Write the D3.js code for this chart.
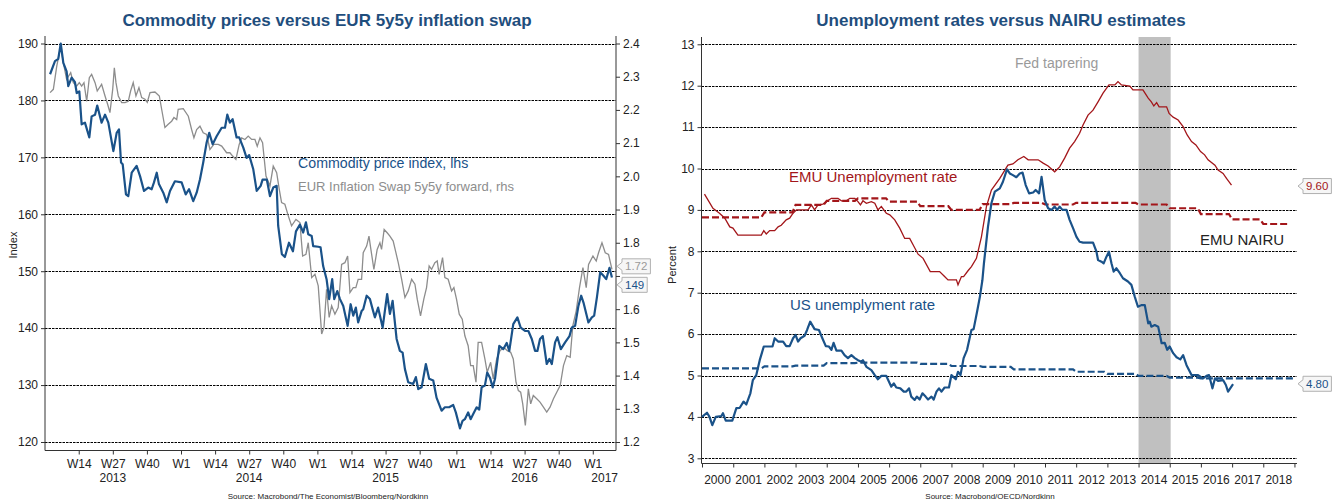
<!DOCTYPE html>
<html><head><meta charset="utf-8">
<script src="https://cdn.jsdelivr.net/npm/d3@7"></script>
<style>
body{margin:0;background:#fff}
svg{display:block}
text{font-family:Arial,"Liberation Sans",sans-serif}
</style>
</head><body>
<svg id="c" width="1338" height="500"></svg>
<script>
// ---------------- DATA (decimal year, value) ----------------
const commodityIndex = [[2013.037,184.6],[2013.073,186.9],[2013.097,187.3],[2013.115,190.0],[2013.134,186.6],[2013.158,185.1],[2013.170,182.5],[2013.195,184.0],[2013.219,183.2],[2013.232,181.3],[2013.251,181.6],[2013.268,175.8],[2013.292,176.1],[2013.324,173.5],[2013.341,177.2],[2013.366,177.5],[2013.382,179.1],[2013.402,177.2],[2013.414,176.1],[2013.439,177.5],[2013.463,176.1],[2013.500,171.1],[2013.524,174.3],[2013.541,174.9],[2013.556,169.1],[2013.568,168.8],[2013.592,163.5],[2013.609,163.2],[2013.634,167.3],[2013.670,168.5],[2013.695,166.7],[2013.724,164.1],[2013.755,164.7],[2013.780,164.4],[2013.797,165.6],[2013.817,167.3],[2013.833,165.3],[2013.865,163.8],[2013.890,162.1],[2013.914,164.1],[2013.950,165.8],[2013.999,165.6],
[2014.029,163.5],[2014.053,164.4],[2014.084,162.3],[2014.109,163.8],[2014.133,166.1],[2014.157,169.1],[2014.182,172.6],[2014.201,174.3],[2014.226,172.3],[2014.255,173.7],[2014.292,175.2],[2014.316,175.2],[2014.333,177.5],[2014.352,176.1],[2014.372,176.7],[2014.401,173.5],[2014.420,173.5],[2014.450,171.7],[2014.474,169.9],[2014.493,170.4],[2014.523,167.9],[2014.548,164.1],[2014.577,165.0],[2014.591,166.1],[2014.622,166.1],[2014.645,163.2],[2014.669,164.7],[2014.694,165.0],[2014.705,158.0],[2014.732,153.0],[2014.754,152.5],[2014.784,155.0],[2014.813,153.5],[2014.835,157.0],[2014.864,158.2],[2014.888,156.8],[2014.908,158.6],[2014.925,156.5],[2014.950,156.2],[2014.961,154.4],[2014.998,154.3],
[2015.015,154.2],[2015.034,150.9],[2015.059,148.6],[2015.078,145.1],[2015.100,148.6],[2015.115,145.1],[2015.137,146.5],[2015.157,145.1],[2015.181,143.9],[2015.213,140.4],[2015.235,144.2],[2015.254,142.2],[2015.273,143.6],[2015.290,141.0],[2015.315,143.0],[2015.327,143.3],[2015.352,145.7],[2015.376,145.1],[2015.396,143.3],[2015.412,141.9],[2015.436,143.6],[2015.469,140.1],[2015.485,143.0],[2015.502,146.0],[2015.522,142.5],[2015.542,144.8],[2015.571,138.1],[2015.595,136.0],[2015.615,135.7],[2015.632,132.8],[2015.656,130.5],[2015.692,130.2],[2015.712,131.4],[2015.729,129.3],[2015.754,129.6],[2015.785,133.7],[2015.809,131.1],[2015.839,130.8],[2015.863,127.8],[2015.900,125.5],[2015.924,126.1],[2015.955,126.1],[2015.985,126.5],
[2016.004,125.2],[2016.034,122.4],[2016.053,123.7],[2016.070,124.0],[2016.094,125.2],[2016.112,124.0],[2016.131,124.9],[2016.156,126.1],[2016.175,125.7],[2016.192,129.6],[2016.216,129.9],[2016.233,132.2],[2016.253,131.3],[2016.273,129.6],[2016.290,131.1],[2016.321,136.9],[2016.350,136.3],[2016.375,137.4],[2016.394,136.0],[2016.423,140.7],[2016.453,141.9],[2016.477,140.1],[2016.509,139.5],[2016.533,139.5],[2016.558,138.1],[2016.582,136.0],[2016.599,136.0],[2016.618,138.1],[2016.638,138.6],[2016.667,133.7],[2016.687,134.6],[2016.704,133.7],[2016.728,137.5],[2016.745,138.4],[2016.770,136.3],[2016.801,137.5],[2016.833,138.6],[2016.850,140.1],[2016.874,140.4],[2016.898,143.9],[2016.918,145.7],[2016.935,144.5],[2016.971,141.0],[2016.996,141.9],
[2017.013,142.2],[2017.033,145.4],[2017.057,149.8],[2017.081,149.2],[2017.101,148.6],[2017.125,150.6],[2017.143,148.9]];

const inflationSwap5y5y = [[2013.037,2.252],[2013.061,2.262],[2013.086,2.332],[2013.115,2.392],[2013.134,2.342],[2013.158,2.292],[2013.188,2.312],[2013.207,2.282],[2013.232,2.272],[2013.251,2.282],[2013.268,2.272],[2013.285,2.282],[2013.305,2.226],[2013.324,2.297],[2013.341,2.307],[2013.366,2.282],[2013.382,2.257],[2013.414,2.277],[2013.439,2.242],[2013.458,2.217],[2013.475,2.192],[2013.495,2.262],[2013.507,2.327],[2013.519,2.282],[2013.536,2.242],[2013.561,2.222],[2013.585,2.222],[2013.609,2.226],[2013.626,2.257],[2013.645,2.282],[2013.665,2.242],[2013.687,2.267],[2013.707,2.237],[2013.731,2.232],[2013.748,2.223],[2013.768,2.252],[2013.804,2.254],[2013.836,2.242],[2013.853,2.202],[2013.877,2.147],[2013.901,2.157],[2013.926,2.166],[2013.943,2.177],[2013.963,2.171],[2013.974,2.202],
[2014.011,2.204],[2014.048,2.181],[2014.072,2.141],[2014.089,2.116],[2014.109,2.141],[2014.133,2.151],[2014.157,2.131],[2014.182,2.126],[2014.206,2.081],[2014.235,2.096],[2014.267,2.096],[2014.292,2.091],[2014.328,2.071],[2014.352,2.071],[2014.372,2.061],[2014.396,2.051],[2014.420,2.096],[2014.438,2.116],[2014.462,2.111],[2014.486,2.121],[2014.511,2.111],[2014.535,2.111],[2014.552,2.091],[2014.572,2.116],[2014.591,2.101],[2014.616,2.001],[2014.645,1.971],[2014.669,2.031],[2014.694,2.011],[2014.713,1.961],[2014.730,1.921],[2014.754,1.916],[2014.779,1.881],[2014.803,1.851],[2014.835,1.870],[2014.864,1.861],[2014.884,1.760],[2014.908,1.765],[2014.925,1.800],[2014.950,1.695],[2014.974,1.705],[2014.998,1.670],
[2015.023,1.525],[2015.040,1.545],[2015.059,1.660],[2015.078,1.575],[2015.096,1.610],[2015.120,1.585],[2015.144,1.605],[2015.169,1.735],[2015.193,1.740],[2015.213,1.760],[2015.230,1.650],[2015.254,1.665],[2015.273,1.665],[2015.290,1.690],[2015.315,1.690],[2015.327,1.770],[2015.352,1.790],[2015.369,1.820],[2015.383,1.780],[2015.405,1.720],[2015.429,1.780],[2015.449,1.800],[2015.461,1.780],[2015.480,1.840],[2015.502,1.830],[2015.522,1.820],[2015.546,1.805],[2015.566,1.770],[2015.583,1.740],[2015.608,1.690],[2015.632,1.635],[2015.656,1.655],[2015.681,1.690],[2015.705,1.675],[2015.722,1.630],[2015.746,1.580],[2015.770,1.630],[2015.790,1.665],[2015.809,1.730],[2015.827,1.720],[2015.851,1.740],[2015.868,1.745],[2015.882,1.705],[2015.907,1.755],[2015.924,1.695],[2015.948,1.690],[2015.973,1.655],[2015.990,1.665],
[2016.009,1.630],[2016.029,1.585],[2016.051,1.570],[2016.070,1.520],[2016.094,1.490],[2016.112,1.430],[2016.131,1.430],[2016.151,1.380],[2016.167,1.500],[2016.192,1.500],[2016.216,1.450],[2016.233,1.410],[2016.258,1.440],[2016.277,1.390],[2016.302,1.450],[2016.326,1.475],[2016.355,1.485],[2016.379,1.475],[2016.404,1.470],[2016.423,1.450],[2016.443,1.380],[2016.460,1.355],[2016.477,1.350],[2016.492,1.315],[2016.511,1.250],[2016.533,1.360],[2016.550,1.315],[2016.569,1.340],[2016.594,1.330],[2016.618,1.320],[2016.643,1.305],[2016.667,1.290],[2016.691,1.305],[2016.716,1.330],[2016.740,1.350],[2016.765,1.370],[2016.789,1.430],[2016.813,1.460],[2016.838,1.455],[2016.857,1.550],[2016.882,1.595],[2016.906,1.665],[2016.931,1.725],[2016.955,1.665],[2016.972,1.735],
[2017.004,1.760],[2017.028,1.745],[2017.045,1.770],[2017.070,1.800],[2017.094,1.770],[2017.118,1.765],[2017.143,1.720]];

const emuUnemployment = [[2000.08,9.38],[2000.35,9.04],[2000.56,8.92],[2000.73,8.80],[2000.89,8.59],[2000.99,8.56],[2001.15,8.39],[2001.90,8.39],[2001.98,8.50],[2002.06,8.42],[2002.17,8.50],[2002.33,8.50],[2002.44,8.59],[2002.54,8.63],[2002.70,8.76],[2002.81,8.80],[2002.92,8.92],[2003.03,9.00],[2003.40,9.00],[2003.51,9.12],[2003.61,9.00],[2003.72,9.12],[2003.88,9.14],[2003.99,9.20],[2004.15,9.28],[2004.36,9.28],[2004.47,9.22],[2004.63,9.22],[2004.74,9.28],[2004.90,9.28],[2005.00,9.20],[2005.08,9.12],[2005.16,9.22],[2005.27,9.16],[2005.43,9.20],[2005.54,9.16],[2005.64,9.00],[2005.75,9.08],[2005.91,8.92],[2006.02,8.88],[2006.18,8.76],[2006.34,8.56],[2006.50,8.31],[2006.66,8.31],[2006.93,7.93],[2007.09,7.83],[2007.32,7.51],[2007.62,7.51],[2007.78,7.39],[2007.89,7.31],[2008.16,7.31],[2008.21,7.19],[2008.32,7.39],[2008.39,7.39],[2008.53,7.53],[2008.64,7.63],[2008.80,7.83],[2008.96,8.35],[2009.12,9.08],[2009.28,9.48],[2009.55,9.76],[2009.81,10.08],[2009.97,10.11],[2010.13,10.21],[2010.32,10.29],[2010.46,10.21],[2010.78,10.21],[2010.94,10.13],[2011.10,10.06],[2011.31,9.92],[2011.47,10.04],[2011.63,10.25],[2011.79,10.49],[2011.95,10.65],[2012.11,10.85],[2012.22,11.05],[2012.38,11.29],[2012.54,11.41],[2012.70,11.61],[2012.86,11.82],[2013.05,12.02],[2013.24,12.02],[2013.34,12.10],[2013.45,12.02],[2013.72,11.99],[2013.82,11.90],[2014.14,11.90],[2014.31,11.70],[2014.41,11.61],[2014.49,11.51],[2014.58,11.59],[2014.66,11.49],[2014.90,11.49],[2014.98,11.33],[2015.11,11.24],[2015.27,11.17],[2015.43,11.01],[2015.56,10.81],[2015.70,10.65],[2015.84,10.57],[2015.99,10.41],[2016.12,10.33],[2016.23,10.21],[2016.45,10.08],[2016.55,9.96],[2016.71,9.88],[2016.82,9.76],[2016.98,9.60]];

const usUnemployment = [[2000.00,4.00],[2000.16,4.10],[2000.24,4.00],[2000.33,3.80],[2000.44,4.00],[2000.62,4.02],[2000.67,4.09],[2000.76,3.91],[2000.97,3.91],[2001.10,4.21],[2001.21,4.22],[2001.33,4.37],[2001.42,4.30],[2001.55,4.57],[2001.63,4.89],[2001.74,5.01],[2001.85,5.37],[2001.98,5.70],[2002.17,5.70],[2002.26,5.70],[2002.33,5.90],[2002.44,5.82],[2002.60,5.82],[2002.70,5.71],[2002.81,5.71],[2002.92,5.90],[2003.00,5.98],[2003.08,5.82],[2003.16,5.90],[2003.29,5.96],[2003.37,6.10],[2003.47,6.30],[2003.61,6.12],[2003.75,6.10],[2003.86,5.90],[2003.97,5.71],[2004.07,5.70],[2004.15,5.62],[2004.22,5.79],[2004.31,5.60],[2004.47,5.60],[2004.57,5.49],[2004.68,5.42],[2004.79,5.49],[2004.90,5.42],[2005.00,5.37],[2005.11,5.33],[2005.16,5.37],[2005.27,5.21],[2005.43,5.13],[2005.54,5.01],[2005.64,4.91],[2005.75,4.99],[2005.91,4.99],[2006.07,4.73],[2006.15,4.81],[2006.23,4.71],[2006.36,4.69],[2006.47,4.61],[2006.55,4.61],[2006.64,4.69],[2006.71,4.49],[2006.82,4.41],[2006.89,4.49],[2006.98,4.42],[2007.07,4.57],[2007.17,4.49],[2007.25,4.42],[2007.36,4.49],[2007.43,4.42],[2007.52,4.61],[2007.60,4.69],[2007.68,4.61],[2007.78,4.71],[2007.92,4.71],[2008.00,5.01],[2008.14,4.91],[2008.21,5.09],[2008.29,5.01],[2008.39,5.42],[2008.50,5.62],[2008.64,6.10],[2008.71,6.12],[2008.82,6.54],[2008.91,6.90],[2008.99,7.30],[2009.04,7.71],[2009.17,8.59],[2009.28,9.16],[2009.39,9.44],[2009.55,9.52],[2009.65,9.68],[2009.78,9.98],[2009.87,9.88],[2009.97,9.84],[2010.08,9.79],[2010.19,9.88],[2010.28,9.90],[2010.38,9.60],[2010.49,9.40],[2010.62,9.42],[2010.70,9.48],[2010.81,9.40],[2010.89,9.80],[2010.99,9.24],[2011.10,9.04],[2011.21,9.00],[2011.31,9.08],[2011.39,9.00],[2011.47,9.08],[2011.56,9.00],[2011.69,9.00],[2011.79,8.76],[2011.90,8.56],[2012.01,8.35],[2012.11,8.23],[2012.22,8.21],[2012.54,8.21],[2012.65,7.99],[2012.70,7.79],[2012.81,7.75],[2012.88,7.71],[2012.97,7.87],[2013.05,7.99],[2013.13,7.71],[2013.20,7.51],[2013.29,7.59],[2013.40,7.47],[2013.50,7.35],[2013.66,7.27],[2013.77,7.19],[2013.88,6.90],[2013.98,6.66],[2014.09,6.70],[2014.20,6.70],[2014.31,6.26],[2014.36,6.30],[2014.41,6.18],[2014.52,6.22],[2014.63,6.18],[2014.74,5.78],[2014.84,5.79],[2014.92,5.62],[2015.00,5.70],[2015.11,5.54],[2015.22,5.44],[2015.34,5.39],[2015.43,5.49],[2015.54,5.25],[2015.70,5.01],[2015.91,5.01],[2016.07,4.93],[2016.18,4.99],[2016.26,5.01],[2016.37,4.69],[2016.45,4.93],[2016.55,4.87],[2016.71,4.89],[2016.80,4.77],[2016.87,4.61],[2017.03,4.79]];

// annual NAIRU estimates
const nairuYears   = [2000,2001,2002,2003,2004,2005,2006,2007,2008,2009,2010,2011,2012,2013,2014,2015,2016,2017,2018];
const emuNairu     = [8.82,8.82,8.94,9.12,9.22,9.28,9.20,9.09,9.00,9.14,9.17,9.13,9.17,9.17,9.13,9.04,8.90,8.77,8.66];
const usNairu      = [5.17,5.17,5.22,5.24,5.30,5.31,5.31,5.28,5.23,5.21,5.15,5.15,5.09,5.04,4.99,4.95,4.93,4.93,4.93];
const nairuEnd     = {emu: 2018.86, us: 2018.97};

const fedTapering  = [2014.0, 2015.03];
const leftTicks    = [120,130,140,150,160,170,180,190];
const rightTicks   = [1.2,1.3,1.4,1.5,1.6,1.7,1.8,1.9,2.0,2.1,2.2,2.3,2.4];
const pctTicks     = [3,4,5,6,7,8,9,10,11,12,13];
const weekNumbers  = [1,14,27,40];

// ---------------- HELPERS ----------------
const BLUE = "#1a5289", GREY = "#8d8d8d", RED = "#a3161a", TITLE = "#1f4e7d";
const svg = d3.select("#c");
function toDate(y){ const yr=Math.floor(y); const a=Date.UTC(yr,0,1), b=Date.UTC(yr+1,0,1); return new Date(a+(y-yr)*(b-a)); }
function styleAxis(g){
  g.select(".domain").remove();
  g.selectAll(".tick line").attr("stroke","#333");
  g.selectAll(".tick text").attr("fill","#222").style("font-size","12px");
}
function callout(xTip, yc, label, color){
  const g = svg.append("g");
  const t = g.append("text").attr("x",0).attr("y",yc+4).attr("fill",color)
    .style("font-size","11.5px").attr("text-anchor","middle").text(label);
  const w = t.node().getComputedTextLength()+6, h=15, gap=5;
  const x0 = xTip+gap;
  t.attr("x", x0 + w/2);
  g.insert("path","text").attr("d",
    `M${xTip},${yc} L${x0},${yc-4} L${x0},${yc-h/2} L${x0+w},${yc-h/2} L${x0+w},${yc+h/2} L${x0},${yc+h/2} L${x0},${yc+4} Z`)
    .attr("fill","#f6f6f6").attr("stroke","#b0b0b0").attr("stroke-width",1);
  return [yc-h/2, yc+h/2];
}
function expandAnnual(vals, endYear){
  const out=[];
  nairuYears.forEach((y,i)=>{ out.push([y, vals[i]]); out.push([i===nairuYears.length-1?endYear:y+0.9, vals[i]]); });
  return out;
}
function grid(sel, ticks, scale, x0, x1){
  sel.append("g").selectAll("line").data(ticks).join("line")
    .attr("x1",x0).attr("x2",x1).attr("y1",d=>Math.round(scale(d))+0.5).attr("y2",d=>Math.round(scale(d))+0.5)
    .attr("stroke","#000").attr("stroke-width",1.1).attr("stroke-dasharray","2.5,1");
}

// ================= LEFT CHART =================
const L = {x0:45, x1:616, top:36, bot:450.5};
const xL = d3.scaleUtc().domain([new Date(Date.UTC(2013,0,1)), new Date(Date.UTC(2017,2,5))]).range([L.x0,L.x1]);
const yL = d3.scaleLinear().domain([120,190]).range([442,43.5]);
const yR = d3.scaleLinear().domain([1.2,2.4]).range([442,43.5]);

svg.append("text").attr("x",327).attr("y",26).attr("text-anchor","middle")
  .attr("fill",TITLE).style("font-size","17px").style("font-weight","bold")
  .text("Commodity prices versus EUR 5y5y inflation swap");

grid(svg, leftTicks, yL, L.x0, L.x1);

const axL = svg.append("g").attr("transform",`translate(${L.x0},0)`)
  .call(d3.axisLeft(yL).tickValues(leftTicks).tickSize(4).tickPadding(3));
styleAxis(axL);
const axR = svg.append("g").attr("transform",`translate(${L.x1},0)`)
  .call(d3.axisRight(yR).tickValues(rightTicks).tickFormat(d3.format(".1f")).tickSize(4).tickPadding(3));
styleAxis(axR);

// x axis with ISO week ticks
const fmtV = d3.utcFormat("%V"), fmtG = d3.utcFormat("%G");
const mondays = d3.utcMonday.range(xL.domain()[0], xL.domain()[1]).filter(d=>weekNumbers.includes(+fmtV(d)));
const axB = svg.append("g").attr("transform",`translate(0,${L.bot})`)
  .call(d3.axisBottom(xL).tickValues(mondays).tickFormat(d=>"W"+(+fmtV(d))).tickSize(4).tickPadding(5));
styleAxis(axB);
const years = mondays.filter(d=>+fmtV(d)===27);
svg.append("g").selectAll("text").data(years).join("text")
  .attr("x",d=>xL(d)).attr("y",482).attr("text-anchor","middle")
  .attr("fill","#222").style("font-size","12px").text(d=>fmtG(d));
const lastW1 = mondays[mondays.length-1];
svg.append("text").attr("x",L.x1+2).attr("y",482).attr("text-anchor","end")
  .attr("fill","#222").style("font-size","12px").text(fmtG(lastW1));

// axis lines
svg.append("line").attr("x1",L.x0).attr("x2",L.x0).attr("y1",L.top).attr("y2",L.bot).attr("stroke","#333");
svg.append("line").attr("x1",L.x1).attr("x2",L.x1).attr("y1",L.top).attr("y2",L.bot).attr("stroke","#333");
svg.append("line").attr("x1",L.x0).attr("x2",L.x1).attr("y1",L.bot).attr("y2",L.bot).attr("stroke","#333");

svg.append("path").datum(inflationSwap5y5y)
  .attr("d", d3.line().x(d=>xL(toDate(d[0]))).y(d=>yR(d[1])))
  .attr("fill","none").attr("stroke",GREY).attr("stroke-width",1.3);
svg.append("path").datum(commodityIndex)
  .attr("d", d3.line().x(d=>xL(toDate(d[0]))).y(d=>yL(d[1])))
  .attr("fill","none").attr("stroke",BLUE).attr("stroke-width",2.2).attr("stroke-linejoin","round");

svg.append("text").attr("transform","translate(17,245) rotate(-90)").attr("text-anchor","middle")
  .attr("fill","#222").style("font-size","11px").text("Index");
svg.append("text").attr("x",298).attr("y",168).attr("fill",BLUE).style("font-size","14.2px").text("Commodity price index, lhs");
svg.append("text").attr("x",298).attr("y",191).attr("fill",GREY).style("font-size","13px").text("EUR Inflation Swap 5y5y forward, rhs");

const lastSwap = inflationSwap5y5y[inflationSwap5y5y.length-1][1];
const lastCom = commodityIndex[commodityIndex.length-1][1];
const c1 = yR(lastSwap)-3;
const c2 = Math.max(yL(lastCom), c1+18.5);
const b1 = callout(L.x1+1, c1, d3.format(".2f")(lastSwap), "#9a9a9a");
const b2 = callout(L.x1+1, c2, d3.format(".0f")(lastCom), BLUE);
// value labels sit on top of the right axis: hide tick labels they cover (as in the original)
axR.selectAll(".tick").each(function(d){
  const y = yR(d);
  if ((y+7 > b1[0] && y-7 < b1[1]) || (y+7 > b2[0] && y-7 < b2[1])) d3.select(this).select("text").remove();
});

svg.append("text").attr("x",328).attr("y",499).attr("text-anchor","middle").attr("fill","#222")
  .style("font-size","8px").text("Source: Macrobond/The Economist/Bloomberg/Nordkinn");

// ================= RIGHT CHART =================
const R = {x0:701.5, x1:1297, top:37, bot:463.5};
const xU = d3.scaleUtc().domain([new Date(Date.UTC(2000,0,1)), new Date(Date.UTC(2019,0,31))]).range([702,1297]);
const yU = d3.scaleLinear().domain([3,13]).range([458.3,44.3]);

svg.append("text").attr("x",1001).attr("y",26).attr("text-anchor","middle")
  .attr("fill",TITLE).style("font-size","17px").style("font-weight","bold")
  .text("Unemployment rates versus NAIRU estimates");

svg.append("rect").attr("x",xU(toDate(fedTapering[0]))).attr("y",R.top)
  .attr("width",xU(toDate(fedTapering[1]))-xU(toDate(fedTapering[0]))).attr("height",R.bot-R.top)
  .attr("fill","#c0c0c0");

grid(svg, pctTicks, yU, R.x0, R.x1);

const axU = svg.append("g").attr("transform",`translate(${R.x0},0)`)
  .call(d3.axisLeft(yU).tickValues(pctTicks).tickSize(4).tickPadding(3));
styleAxis(axU);

const yearTicks = d3.utcYear.range(new Date(Date.UTC(2000,0,1)), new Date(Date.UTC(2019,0,2)));
const axX = svg.append("g").attr("transform",`translate(0,${R.bot})`)
  .call(d3.axisBottom(xU).tickValues(yearTicks).tickFormat("").tickSize(4));
styleAxis(axX);
svg.append("g").selectAll("text").data(yearTicks.slice(0,-1)).join("text")
  .attr("x",d=>xU(d3.utcMonth.offset(d,6))).attr("y",483.5).attr("text-anchor","middle")
  .attr("fill","#222").style("font-size","12px").text(d=>d3.utcFormat("%Y")(d));

svg.append("line").attr("x1",R.x0).attr("x2",R.x0).attr("y1",R.top).attr("y2",R.bot).attr("stroke","#333");
svg.append("line").attr("x1",R.x0).attr("x2",R.x1).attr("y1",R.bot).attr("y2",R.bot).attr("stroke","#333");

const lineU = d3.line().x(d=>xU(toDate(d[0]))).y(d=>yU(d[1]));
svg.append("path").datum(expandAnnual(emuNairu, nairuEnd.emu)).attr("d",lineU)
  .attr("fill","none").attr("stroke",RED).attr("stroke-width",2.2).attr("stroke-dasharray","7,3");
svg.append("path").datum(expandAnnual(usNairu, nairuEnd.us)).attr("d",lineU)
  .attr("fill","none").attr("stroke",BLUE).attr("stroke-width",2.2).attr("stroke-dasharray","7,3");
svg.append("path").datum(emuUnemployment).attr("d",lineU)
  .attr("fill","none").attr("stroke",RED).attr("stroke-width",1.3);
svg.append("path").datum(usUnemployment).attr("d",lineU)
  .attr("fill","none").attr("stroke",BLUE).attr("stroke-width",2.2).attr("stroke-linejoin","round");

svg.append("text").attr("transform","translate(676,265) rotate(-90)").attr("text-anchor","middle")
  .attr("fill","#222").style("font-size","11px").text("Percent");
svg.append("text").attr("x",1015).attr("y",68).attr("fill","#9a9a9a").style("font-size","14px").text("Fed taprering");
svg.append("text").attr("x",789).attr("y",182).attr("fill",RED).style("font-size","15px").text("EMU Unemployment rate");
svg.append("text").attr("x",1200).attr("y",245).attr("fill","#222").style("font-size","15px").text("EMU NAIRU");
svg.append("text").attr("x",790).attr("y",310).attr("fill",BLUE).style("font-size","15px").text("US unemplyment rate");

const lastEmu = emuUnemployment[emuUnemployment.length-1][1];
callout(1298, yU(lastEmu)+1, d3.format(".2f")(lastEmu), RED);
callout(1298, yU(4.8), d3.format(".2f")(4.8), BLUE);

svg.append("text").attr("x",990).attr("y",499).attr("text-anchor","middle").attr("fill","#222")
  .style("font-size","8px").text("Source: Macrobond/OECD/Nordkinn");
</script>
</body></html>
